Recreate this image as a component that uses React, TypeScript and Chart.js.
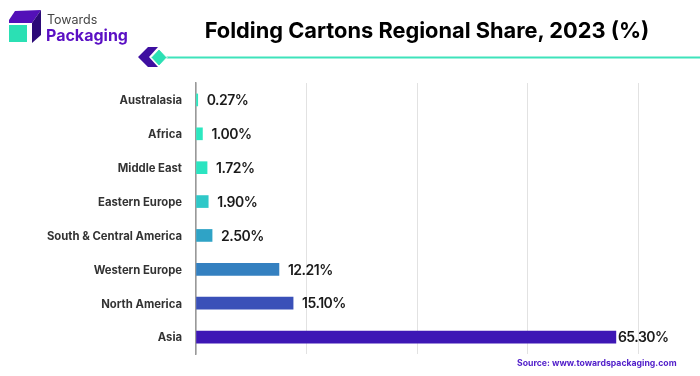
import React, { useEffect, useRef } from "react";
import { Chart, registerables } from "chart.js";

Chart.register(...registerables);

const categories = ["Australasia", "Africa", "Middle East", "Eastern Europe", "South & Central America", "Western Europe", "North America", "Asia"];
// Bar lengths as drawn in the picture (the Western Europe bar is drawn longer than its 12.21% label).
const shares = [0.27, 1.0, 1.72, 1.9, 2.5, 12.9, 15.1, 65.3];
const valueLabels = ["0.27%", "1.00%", "1.72%", "1.90%", "2.50%", "12.21%", "15.10%", "65.30%"];
const barColors = ["#2ee6c0", "#2ce8c0", "#2be4c1", "#2fc8c8", "#2fa3c6", "#3480c0", "#3a50b8", "#3d17b5"];
const gridStep = 17.185;
const axisMax = 68.74;

const valueLabelPlugin = {
  id: "valueLabels",
  afterDatasetsDraw(chart: any) {
    const { ctx } = chart;
    const meta = chart.getDatasetMeta(0);
    ctx.save();
    ctx.font = "600 14px Inter, sans-serif";
    (ctx as any).letterSpacing = "-0.5px";
    ctx.fillStyle = "#1a1a1a";
    ctx.textAlign = "left";
    ctx.textBaseline = "middle";
    meta.data.forEach((bar: any, i: number) => {
      const offset = shares[i] > 60 ? 2 : 9;
      ctx.fillText(valueLabels[i], bar.x + offset, bar.y + 1);
    });
    ctx.restore();
  },
};

export default function App() {
  const ref = useRef<HTMLCanvasElement>(null);
  useEffect(() => {
    document.body.style.margin = "0";
    const chart = new Chart(ref.current!, {
      type: "bar",
      data: {
        labels: categories,
        datasets: [{ data: shares, backgroundColor: barColors, barThickness: 12, borderWidth: 0 }],
      },
      options: {
        indexAxis: "y",
        animation: false,
        responsive: false,
        layout: { padding: { top: 83, bottom: 22, right: 62, left: 0 } },
        plugins: { legend: { display: false }, title: { display: false }, tooltip: { enabled: false } },
        scales: {
          x: {
            min: 0,
            max: axisMax,
            ticks: { display: false, stepSize: gridStep },
            grid: { color: "#e2e2e2", lineWidth: 1, drawTicks: false },
            border: { display: false },
            afterFit: (s: any) => { s.height = 0; },
          },
          y: {
            ticks: { color: "#333333", font: { family: "Inter, sans-serif", size: 11.3, weight: 700 }, padding: 14, autoSkip: false, labelOffset: 1 },
            grid: { display: false, drawTicks: false },
            border: { display: true, color: "#999999", width: 1.5 },
            afterFit: (s: any) => { s.width = 196; },
          },
        },
      },
      plugins: [valueLabelPlugin],
    } as any);
    return () => chart.destroy();
  }, []);

  return (
    <div style={{ position: "relative", width: 700, height: 376, background: "#fff", overflow: "hidden" }}>
      <canvas ref={ref} width={700} height={376} style={{ position: "absolute", left: 0, top: 0 }} />
      <svg width={700} height={376} style={{ position: "absolute", left: 0, top: 0 }}>
        <polygon points="9,20 15,11 41,10 32,23 9,23" fill="#5310b8" />
        <polygon points="32,23 41,10 41,35 32,43" fill="#2c0a78" />
        <rect x={9} y={25} width={18} height={17} fill="#2be0b4" />
        <polygon points="138,57 148,47 158,47 149,57 158,67 148,67" fill="#3e0fa0" />
        <line x1={160} y1={57.5} x2={700} y2={57.5} stroke="#3fe3bb" strokeWidth={2} />
        <polygon points="159,49 167,57.5 159,66 151,57.5" fill="#2be0b4" stroke="#fff" strokeWidth={1} />
      </svg>
      <div style={{ position: "absolute", left: 47, top: 12, font: "400 12.5px/16px Inter, sans-serif", color: "#444" }}>Towards</div>
      <div style={{ position: "absolute", left: 46, top: 25, font: "700 16px/21px Inter, sans-serif", color: "#5a0fc4" }}>Packaging</div>
      <div style={{ position: "absolute", left: 200, top: 16, width: 454, textAlign: "center", whiteSpace: "nowrap", font: "700 21.8px/28px Inter, sans-serif", color: "#000" }}>
        Folding Cartons Regional Share, 2023 (%)
      </div>
      <div style={{ position: "absolute", left: 517, top: 357, whiteSpace: "nowrap", font: "700 8.7px/12px Inter, sans-serif", color: "#4f1cc9" }}>
        Source: www.towardspackaging.com
      </div>
    </div>
  );
}
